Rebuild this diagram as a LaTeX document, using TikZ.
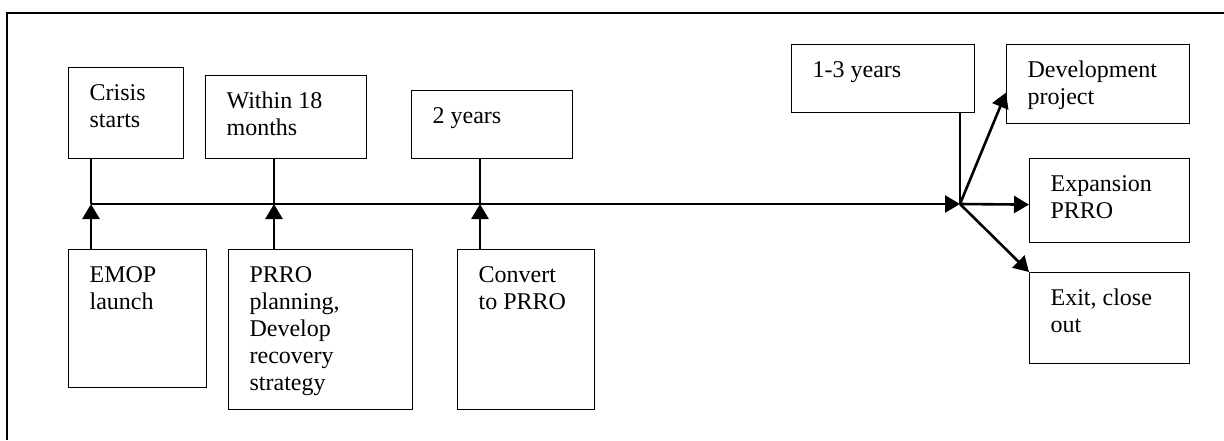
\documentclass[tikz,border=0pt]{standalone}
\usepackage{fontspec}
\setmainfont{Liberation Serif}
\usetikzlibrary{arrows.meta}
\newcommand{\boxtext}[3]{\parbox[t][\dimexpr#2-14pt\relax][t]{\dimexpr#1-21pt\relax}{\raggedright\strut #3}}

\begin{document}
\begin{tikzpicture}[x=0.5pt, y=-0.5pt, font=\fontsize{12}{13.5}\selectfont,
  box/.style={draw, line width=0.6pt, anchor=north west, inner xsep=10.5pt, inner ysep=7pt},
  stem/.style={line width=0.6pt},
  push/.style={line width=1.3pt, -{Triangle[length=7.5pt,width=8.5pt]}}]
\useasboundingbox (0,0) rectangle (1224,440);
% frame
\draw[line width=0.7pt] (7,440) -- (7,13) -- (1224,13);

% time boxes above the line
\node[box] (crisis)   at (68,67)   {\boxtext{57.5pt}{45.5pt}{Crisis\\starts}};
\node[box] (within)   at (205,75)  {\boxtext{80.5pt}{41.5pt}{Within 18\\months}};
\node[box] (twoyears) at (411,90)  {\boxtext{80.5pt}{34pt}{2 years}};
\node[box] (onethree) at (791,44)  {\boxtext{91.5pt}{34pt}{1-3 years}};

% action boxes below the line
\node[box] (emop)     at (68,249)  {\boxtext{69pt}{69pt}{EMOP\\launch}};
\node[box] (prro)     at (228,249) {\boxtext{92pt}{80pt}{PRRO\\planning,\\Develop\\recovery\\strategy}};
\node[box] (convert)  at (457,249) {\boxtext{68.5pt}{80pt}{Convert\\to PRRO}};

% outcomes
\node[box] (devproj)   at (1006,44)  {\boxtext{91.5pt}{39.5pt}{Development\\project}};
\node[box] (expansion) at (1029,158) {\boxtext{80pt}{42pt}{Expansion\\PRRO}};
\node[box] (exit)      at (1029,272) {\boxtext{80pt}{45.5pt}{Exit, close\\out}};

% points on the time line
\coordinate (t1)  at (91,204);
\coordinate (t2)  at (274,204);
\coordinate (t3)  at (480,204);
\coordinate (tk)  at (342,204);
\coordinate (hub) at (960,204);

\draw[stem] (t1) -- (tk);
\draw[push] (tk) -- (hub);

\foreach \t/\top/\bot in {t1/crisis/emop, t2/within/prro, t3/twoyears/convert} {
  \draw[stem] (\t |- \top.south) -- (\t);
  \draw[push] (\t |- \bot.north) -- (\t);
}
\draw[stem] (hub |- onethree.south) -- (hub);

\draw[push] (hub) -- ([yshift=-4.25pt]devproj.west);
\draw[push] (hub) -- ([yshift=-2pt]expansion.west);
\draw[push] (hub) -- (exit.north west);
\end{tikzpicture}
\end{document}
